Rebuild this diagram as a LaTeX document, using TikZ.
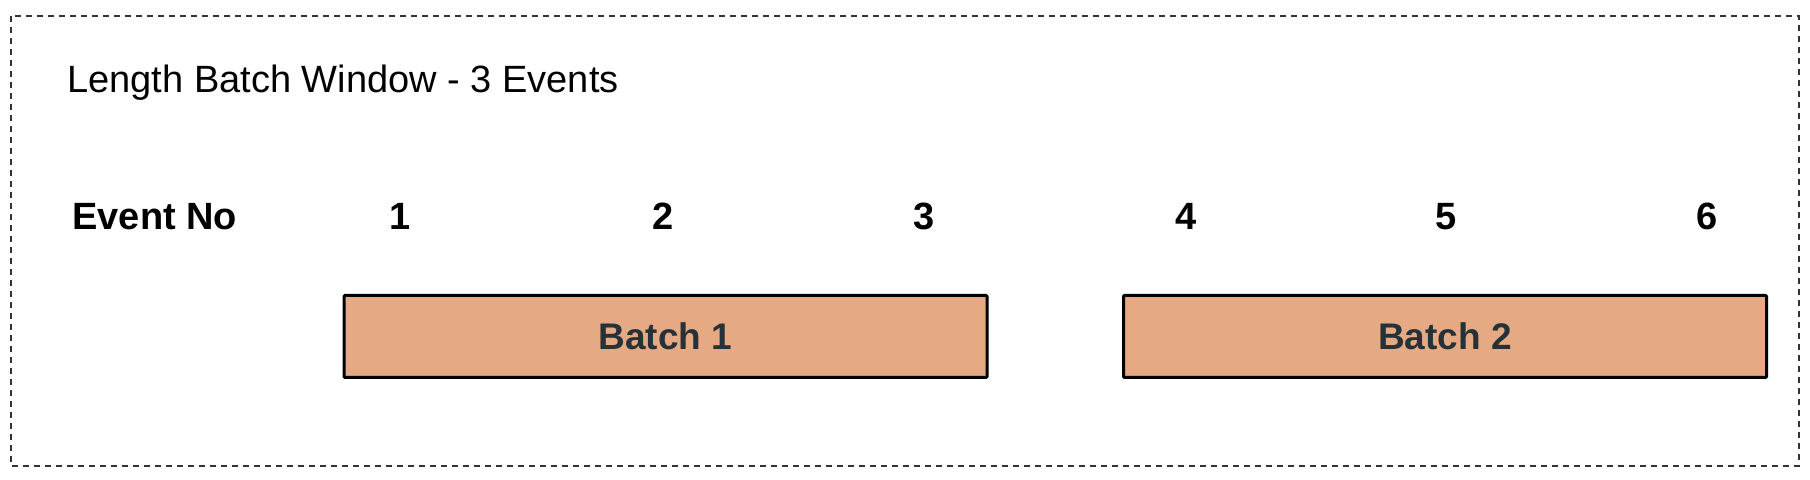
\documentclass[tikz,border=0pt]{standalone}
\usepackage{fontspec}
\setmainfont{Liberation Sans}
\usetikzlibrary{backgrounds}

\definecolor{batchfill}{HTML}{E5A984}
\definecolor{batchtext}{HTML}{263238}

\begin{document}
\begin{tikzpicture}
	[x=0.5pt,y=-0.5pt,
	 txt/.style={inner sep=0pt, font=\fontsize{19}{23}\selectfont},
	 num/.style={txt, font=\fontsize{19}{23}\selectfont\bfseries, anchor=base},
	 batch/.style={draw=black, line width=1.5pt, fill=batchfill, rounded corners=0.5pt,
		minimum width=321.5pt, minimum height=41pt, inner sep=0pt,
		text=batchtext, font=\fontsize{18.5}{22}\selectfont\bfseries}]

	\useasboundingbox (0,0) rectangle (1810,480);

	%Frame
	\draw[dashed, dash pattern=on 3pt off 2.5pt, line width=0.75pt, draw=black!80] (11,16) rectangle (1799,466);

	%Title
	\node[txt, anchor=base west] (title) at (67,93) {Length Batch Window - 3 Events};

	%Event numbers
	\node[num, anchor=base west] (eventno) at (72,230) {Event No};
	\foreach \n/\x in {1/400, 2/663, 3/924, 4/1186, 5/1446, 6/1707}
		\node[num] (ev\n) at (\x,230) {\n};

	%Batches
	\node[batch] (batch1) at (665.5,336.5) {Batch 1};
	\node[batch] (batch2) at (1445,336.5) {Batch 2};
\end{tikzpicture}
\end{document}
